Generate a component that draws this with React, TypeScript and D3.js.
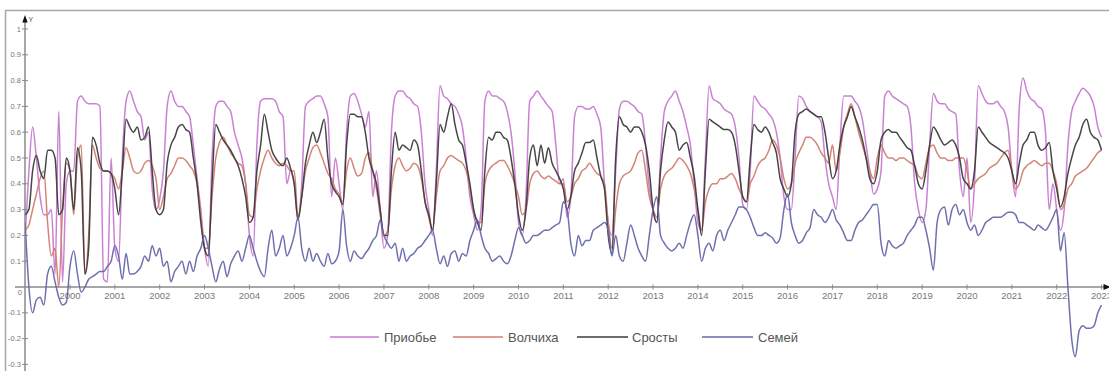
import React from "react";
import * as d3 from "d3";

// Monthly vegetation index, January 1999 through January 2023 (12 values per year)
const startYear = 1999;

const seriesNames = ["Приобье", "Волчиха", "Сросты", "Семей"];
const seriesColors = ["#c77ad2", "#d27d70", "#3c3c3c", "#6668aa"];

const priobye = [
  0.2, 0.45, 0.62, 0.5, 0.35, 0.28, 0.28, 0.3, 0.05, 0.68, 0.02, 0.4, // 1999
  0.45, 0.45, 0.72, 0.74, 0.72, 0.71, 0.71, 0.71, 0.7, 0.03, 0.02, 0.5, // 2000
  0.15, 0.1, 0.5, 0.72, 0.76, 0.72, 0.68, 0.66, 0.57, 0.6, 0.38, 0.3, // 2001
  0.34, 0.45, 0.7, 0.76, 0.72, 0.7, 0.7, 0.68, 0.66, 0.55, 0.42, 0.3, // 2002
  0.15, 0.08, 0.5, 0.7, 0.72, 0.72, 0.7, 0.68, 0.6, 0.55, 0.5, 0.4, // 2003
  0.2, 0.12, 0.55, 0.72, 0.73, 0.73, 0.73, 0.72, 0.68, 0.66, 0.4, 0.45, // 2004
  0.4, 0.26, 0.4, 0.7, 0.72, 0.73, 0.74, 0.74, 0.71, 0.66, 0.35, 0.5, // 2005
  0.4, 0.3, 0.6, 0.74, 0.75, 0.72, 0.67, 0.62, 0.68, 0.35, 0.45, 0.3, // 2006
  0.15, 0.2, 0.6, 0.74, 0.76, 0.76, 0.74, 0.73, 0.71, 0.7, 0.6, 0.4, // 2007
  0.3, 0.2, 0.45, 0.78, 0.74, 0.73, 0.71, 0.7, 0.67, 0.62, 0.5, 0.35, // 2008
  0.28, 0.22, 0.3, 0.72, 0.76, 0.74, 0.74, 0.73, 0.72, 0.68, 0.6, 0.45, // 2009
  0.25, 0.2, 0.35, 0.72, 0.74, 0.76, 0.74, 0.72, 0.7, 0.68, 0.55, 0.4, // 2010
  0.42, 0.27, 0.35, 0.66, 0.7, 0.7, 0.69, 0.69, 0.7, 0.67, 0.62, 0.4, // 2011
  0.25, 0.2, 0.45, 0.69, 0.72, 0.72, 0.71, 0.7, 0.68, 0.67, 0.55, 0.38, // 2012
  0.3, 0.25, 0.5, 0.68, 0.72, 0.74, 0.76, 0.72, 0.68, 0.62, 0.55, 0.4, // 2013
  0.25, 0.22, 0.5, 0.78, 0.73, 0.72, 0.71, 0.69, 0.68, 0.67, 0.62, 0.5, // 2014
  0.32, 0.3, 0.45, 0.74, 0.72, 0.7, 0.69, 0.67, 0.65, 0.6, 0.5, 0.35, // 2015
  0.3, 0.3, 0.5, 0.74, 0.73, 0.7, 0.68, 0.67, 0.66, 0.64, 0.5, 0.4, // 2016
  0.35, 0.3, 0.55, 0.74, 0.74, 0.74, 0.72, 0.7, 0.65, 0.55, 0.45, 0.36, // 2017
  0.38, 0.45, 0.74, 0.76, 0.74, 0.73, 0.72, 0.71, 0.7, 0.62, 0.4, 0.3, // 2018
  0.25, 0.3, 0.55, 0.75, 0.72, 0.71, 0.71, 0.69, 0.68, 0.67, 0.45, 0.35, // 2019
  0.5, 0.25, 0.4, 0.78, 0.75, 0.72, 0.71, 0.71, 0.72, 0.7, 0.68, 0.62, // 2020
  0.45, 0.35, 0.7, 0.81, 0.76, 0.73, 0.72, 0.7, 0.69, 0.6, 0.3, 0.4, // 2021
  0.3, 0.22, 0.3, 0.55, 0.68, 0.72, 0.75, 0.77, 0.76, 0.74, 0.7, 0.62, // 2022
  0.58, // 2023
];

const volchikha = [
  0.22, 0.24, 0.3, 0.36, 0.42, 0.45, 0.25, 0.12, 0.15, 0.0, 0.3, 0.48, // 1999
  0.45, 0.28, 0.5, 0.55, 0.05, 0.2, 0.55, 0.5, 0.46, 0.45, 0.45, 0.44, // 2000
  0.42, 0.38, 0.45, 0.54, 0.5, 0.45, 0.44, 0.45, 0.48, 0.49, 0.47, 0.42, // 2001
  0.3, 0.35, 0.42, 0.44, 0.47, 0.5, 0.5, 0.49, 0.47, 0.45, 0.4, 0.28, // 2002
  0.15, 0.15, 0.35, 0.5, 0.56, 0.58, 0.55, 0.52, 0.5, 0.48, 0.47, 0.4, // 2003
  0.28, 0.27, 0.38, 0.45, 0.5, 0.53, 0.5, 0.48, 0.47, 0.48, 0.47, 0.45, // 2004
  0.45, 0.27, 0.35, 0.45, 0.5, 0.54, 0.55, 0.52, 0.48, 0.44, 0.42, 0.38, // 2005
  0.36, 0.33, 0.45, 0.5, 0.46, 0.43, 0.44, 0.5, 0.52, 0.45, 0.38, 0.28, // 2006
  0.2, 0.22, 0.38, 0.47, 0.5, 0.47, 0.45, 0.46, 0.48, 0.47, 0.42, 0.33, // 2007
  0.27, 0.22, 0.35, 0.45, 0.47, 0.5, 0.51, 0.5, 0.49, 0.48, 0.45, 0.38, // 2008
  0.3, 0.25, 0.25, 0.4, 0.45, 0.47, 0.48, 0.49, 0.49, 0.47, 0.44, 0.4, // 2009
  0.35, 0.28, 0.3, 0.4, 0.44, 0.45, 0.43, 0.42, 0.43, 0.42, 0.41, 0.4, // 2010
  0.4, 0.33, 0.35, 0.4, 0.42, 0.45, 0.46, 0.48, 0.46, 0.44, 0.43, 0.4, // 2011
  0.25, 0.15, 0.3, 0.4, 0.43, 0.44, 0.45, 0.48, 0.52, 0.53, 0.45, 0.35, // 2012
  0.3, 0.27, 0.38, 0.43, 0.45, 0.46, 0.48, 0.5, 0.49, 0.47, 0.44, 0.38, // 2013
  0.3, 0.22, 0.33, 0.38, 0.4, 0.4, 0.42, 0.42, 0.43, 0.44, 0.42, 0.38, // 2014
  0.35, 0.33, 0.4, 0.43, 0.47, 0.49, 0.5, 0.53, 0.57, 0.55, 0.5, 0.42, // 2015
  0.38, 0.4, 0.48, 0.52, 0.55, 0.58, 0.58, 0.57, 0.55, 0.52, 0.5, 0.48, // 2016
  0.55, 0.45, 0.52, 0.62, 0.67, 0.71, 0.66, 0.6, 0.55, 0.5, 0.45, 0.42, // 2017
  0.5, 0.55, 0.52, 0.5, 0.5, 0.49, 0.5, 0.5, 0.49, 0.48, 0.47, 0.43, // 2018
  0.42, 0.48, 0.54, 0.55, 0.52, 0.5, 0.5, 0.49, 0.49, 0.5, 0.5, 0.5, // 2019
  0.45, 0.38, 0.4, 0.42, 0.43, 0.44, 0.46, 0.47, 0.48, 0.5, 0.52, 0.53, // 2020
  0.45, 0.38, 0.4, 0.45, 0.47, 0.48, 0.49, 0.48, 0.47, 0.48, 0.48, 0.45, // 2021
  0.4, 0.3, 0.32, 0.38, 0.4, 0.43, 0.44, 0.45, 0.46, 0.48, 0.5, 0.52, // 2022
  0.53, // 2023
];

const srosty = [
  0.28, 0.3, 0.45, 0.51, 0.45, 0.42, 0.53, 0.53, 0.5, 0.28, 0.3, 0.5, // 1999
  0.45, 0.3, 0.54, 0.45, 0.05, 0.15, 0.58, 0.55, 0.48, 0.45, 0.45, 0.44, // 2000
  0.38, 0.28, 0.45, 0.65, 0.62, 0.6, 0.62, 0.57, 0.58, 0.62, 0.45, 0.3, // 2001
  0.28, 0.3, 0.48, 0.55, 0.58, 0.62, 0.63, 0.61, 0.6, 0.5, 0.4, 0.25, // 2002
  0.15, 0.12, 0.4, 0.63, 0.6, 0.57, 0.55, 0.53, 0.5, 0.47, 0.42, 0.35, // 2003
  0.25, 0.27, 0.45, 0.55, 0.67, 0.6, 0.53, 0.5, 0.48, 0.47, 0.5, 0.46, // 2004
  0.4, 0.26, 0.35, 0.48, 0.55, 0.6, 0.56, 0.6, 0.65, 0.5, 0.4, 0.37, // 2005
  0.35, 0.32, 0.55, 0.67, 0.67, 0.66, 0.66, 0.6, 0.5, 0.45, 0.4, 0.3, // 2006
  0.2, 0.2, 0.45, 0.6, 0.53, 0.55, 0.54, 0.53, 0.57, 0.55, 0.45, 0.33, // 2007
  0.28, 0.22, 0.4, 0.63, 0.6, 0.66, 0.71, 0.63, 0.57, 0.55, 0.48, 0.4, // 2008
  0.3, 0.25, 0.22, 0.45, 0.58, 0.57, 0.6, 0.6, 0.58, 0.57, 0.5, 0.4, // 2009
  0.28, 0.22, 0.3, 0.5, 0.55, 0.47, 0.55, 0.48, 0.54, 0.48, 0.45, 0.42, // 2010
  0.38, 0.3, 0.35, 0.45, 0.48, 0.52, 0.56, 0.56, 0.57, 0.5, 0.43, 0.38, // 2011
  0.2, 0.13, 0.5, 0.66, 0.63, 0.62, 0.6, 0.62, 0.62, 0.6, 0.55, 0.45, // 2012
  0.3, 0.25, 0.45, 0.57, 0.64, 0.62, 0.6, 0.53, 0.55, 0.56, 0.5, 0.43, // 2013
  0.3, 0.2, 0.45, 0.65, 0.64, 0.63, 0.62, 0.61, 0.61, 0.6, 0.55, 0.45, // 2014
  0.35, 0.33, 0.5, 0.63, 0.61, 0.6, 0.62, 0.6, 0.56, 0.52, 0.42, 0.38, // 2015
  0.35, 0.4, 0.6, 0.67, 0.68, 0.69, 0.68, 0.67, 0.66, 0.66, 0.6, 0.5, // 2016
  0.42, 0.45, 0.55, 0.62, 0.66, 0.7, 0.66, 0.62, 0.57, 0.5, 0.42, 0.4, // 2017
  0.45, 0.57, 0.6, 0.61, 0.6, 0.6, 0.58, 0.56, 0.54, 0.53, 0.47, 0.4, // 2018
  0.38, 0.45, 0.55, 0.62, 0.6, 0.57, 0.55, 0.56, 0.57, 0.55, 0.5, 0.42, // 2019
  0.4, 0.38, 0.45, 0.62, 0.6, 0.58, 0.56, 0.55, 0.54, 0.53, 0.52, 0.5, // 2020
  0.45, 0.4, 0.48, 0.55, 0.57, 0.6, 0.6, 0.55, 0.53, 0.54, 0.56, 0.45, // 2021
  0.38, 0.31, 0.35, 0.44, 0.5, 0.55, 0.58, 0.63, 0.65, 0.6, 0.58, 0.57, // 2022
  0.53, // 2023
];

const semey = [
  0.25, 0.0, -0.1, -0.05, -0.04, -0.07, 0.05, 0.08, 0.02, -0.04, -0.07, -0.06, // 1999
  0.08, 0.14, 0.05, -0.02, 0.0, 0.03, 0.04, 0.05, 0.06, 0.06, 0.08, 0.1, // 2000
  0.16, 0.12, 0.03, 0.13, 0.05, 0.05, 0.06, 0.08, 0.12, 0.1, 0.16, 0.12, // 2001
  0.15, 0.08, 0.1, 0.02, 0.06, 0.08, 0.1, 0.05, 0.1, 0.06, 0.12, 0.15, // 2002
  0.2, 0.15, 0.08, 0.02, 0.07, 0.1, 0.04, 0.09, 0.12, 0.14, 0.1, 0.15, // 2003
  0.2, 0.15, 0.1, 0.06, 0.04, 0.15, 0.22, 0.12, 0.15, 0.2, 0.12, 0.15, // 2004
  0.2, 0.27, 0.15, 0.1, 0.15, 0.1, 0.13, 0.1, 0.08, 0.13, 0.09, 0.1, // 2005
  0.14, 0.3, 0.16, 0.1, 0.14, 0.12, 0.11, 0.13, 0.15, 0.18, 0.2, 0.26, // 2006
  0.2, 0.17, 0.15, 0.17, 0.1, 0.15, 0.1, 0.12, 0.13, 0.15, 0.16, 0.18, // 2007
  0.2, 0.22, 0.15, 0.09, 0.12, 0.08, 0.13, 0.14, 0.1, 0.13, 0.12, 0.18, // 2008
  0.22, 0.26, 0.2, 0.15, 0.13, 0.1, 0.11, 0.12, 0.1, 0.09, 0.12, 0.18, // 2009
  0.23, 0.2, 0.17, 0.18, 0.2, 0.2, 0.21, 0.22, 0.22, 0.23, 0.24, 0.25, // 2010
  0.33, 0.3, 0.17, 0.12, 0.2, 0.16, 0.18, 0.18, 0.22, 0.23, 0.24, 0.25, // 2011
  0.22, 0.12, 0.2, 0.12, 0.1, 0.17, 0.24, 0.2, 0.15, 0.12, 0.1, 0.2, // 2012
  0.3, 0.35, 0.2, 0.17, 0.15, 0.14, 0.15, 0.17, 0.15, 0.2, 0.25, 0.28, // 2013
  0.2, 0.1, 0.15, 0.17, 0.14, 0.2, 0.22, 0.18, 0.22, 0.25, 0.28, 0.31, // 2014
  0.31, 0.3, 0.27, 0.23, 0.2, 0.2, 0.21, 0.2, 0.19, 0.17, 0.19, 0.3, // 2015
  0.36, 0.25, 0.2, 0.17, 0.18, 0.21, 0.23, 0.3, 0.28, 0.27, 0.25, 0.27, // 2016
  0.3, 0.26, 0.24, 0.21, 0.18, 0.18, 0.22, 0.25, 0.26, 0.28, 0.3, 0.32, // 2017
  0.32, 0.17, 0.12, 0.18, 0.16, 0.15, 0.16, 0.17, 0.2, 0.22, 0.24, 0.27, // 2018
  0.27, 0.22, 0.15, 0.065, 0.25, 0.3, 0.31, 0.24, 0.3, 0.32, 0.28, 0.3, // 2019
  0.25, 0.22, 0.24, 0.2, 0.22, 0.25, 0.26, 0.27, 0.27, 0.27, 0.28, 0.29, // 2020
  0.29, 0.28, 0.25, 0.25, 0.24, 0.23, 0.22, 0.24, 0.23, 0.22, 0.24, 0.27, // 2021
  0.3, 0.14, 0.21, 0.0, -0.2, -0.27, -0.17, -0.15, -0.16, -0.16, -0.15, -0.1, // 2022
  -0.07, // 2023
];

const seriesValues = [priobye, volchikha, srosty, semey];

const yearTicks = [
  2000, 2001, 2002, 2003, 2004, 2005, 2006, 2007, 2008, 2009, 2010, 2011,
  2012, 2013, 2014, 2015, 2016, 2017, 2018, 2019, 2020, 2021, 2022, 2023,
];
const valueTicks = [-0.3, -0.2, -0.1, 0.1, 0.2, 0.3, 0.4, 0.5, 0.6, 0.7, 0.8, 0.9, 1];

const W = 1109;
const H = 371;
const FONT = "'Liberation Sans', Arial, sans-serif";
const AXIS = "#8a8a8a";
const LABEL = "#777";

export default function App() {
  const x = d3.scaleLinear().domain([2000, 2022]).range([70, 70 + 22 * 44.85]);
  const y = d3.scaleLinear().domain([0, 1]).range([287, 29]);
  const x0 = x(startYear) < 25 ? 25 : x(startYear);
  const y0 = y(0);

  const line = d3
    .line<number>()
    .x((_, i) => x(startYear + i / 12))
    .y((d) => y(d))
    .curve(d3.curveMonotoneX);

  const legendItems = [
    { x1: 330, x2: 379, tx: 384 },
    { x1: 453, x2: 503, tx: 508 },
    { x1: 577, x2: 628, tx: 632 },
    { x1: 702, x2: 753, tx: 758 },
  ];

  return (
    <svg
      width={W}
      height={H}
      style={{ position: "absolute", left: 0, top: 0, display: "block", background: "#fff" }}
      fontFamily={FONT}
    >
      <rect x={0} y={0} width={W} height={H} fill="#fff" />
      {/* panel frame */}
      <rect x={5.5} y={10.5} width={W + 10} height={H + 10} fill="none" stroke="#a8a8a8" strokeWidth={1.5} />

      {/* y axis */}
      <line x1={25} x2={25} y1={18} y2={H} stroke={AXIS} strokeWidth={1.5} />
      <polygon points="25,15 22.3,22.5 27.7,22.5" fill="#111" />
      <text x={28.5} y={21.5} fontSize={7} fill="#555">Y</text>
      {valueTicks.map((v) => (
        <g key={v}>
          <line x1={22} x2={28} y1={y(v)} y2={y(v)} stroke={AXIS} strokeWidth={1} />
          <text x={21} y={y(v) + 2.6} fontSize={7.5} fill={LABEL} textAnchor="end">
            {v === 1 ? "1" : v.toFixed(1)}
          </text>
        </g>
      ))}
      <text x={22} y={y0 + 7.5} fontSize={7.5} fill={LABEL} textAnchor="end">0</text>

      {/* x axis */}
      <line x1={15} x2={1104} y1={y0} y2={y0} stroke={AXIS} strokeWidth={1.5} />
      <polygon points={`1111,${y0} 1103.5,${y0 - 3} 1103.5,${y0 + 3}`} fill="#111" />
      {yearTicks.map((yr) => (
        <g key={yr}>
          <line x1={x(yr)} x2={x(yr)} y1={y0 - 2.5} y2={y0 + 2.5} stroke={AXIS} strokeWidth={1} />
          <text x={x(yr)} y={y0 + 12} fontSize={9.5} fill={LABEL} textAnchor="middle">
            {yr}
          </text>
        </g>
      ))}

      {/* series */}
      <g clipPath="url(#plotClip)">
        <defs>
          <clipPath id="plotClip">
            <rect x={x0} y={12} width={W - x0} height={H - 12} />
          </clipPath>
        </defs>
        {seriesValues.map((vals, k) => (
          <path
            key={seriesNames[k]}
            d={line(vals) || ""}
            fill="none"
            stroke={seriesColors[k]}
            strokeWidth={1.5}
            strokeLinejoin="round"
            opacity={0.95}
          />
        ))}
      </g>

      {/* legend */}
      {legendItems.map((it, k) => (
        <g key={seriesNames[k]}>
          <line x1={it.x1} x2={it.x2} y1={337} y2={337} stroke={seriesColors[k]} strokeWidth={1.5} />
          <text x={it.tx} y={341.5} fontSize={13} fill="#555">
            {seriesNames[k]}
          </text>
        </g>
      ))}
    </svg>
  );
}
